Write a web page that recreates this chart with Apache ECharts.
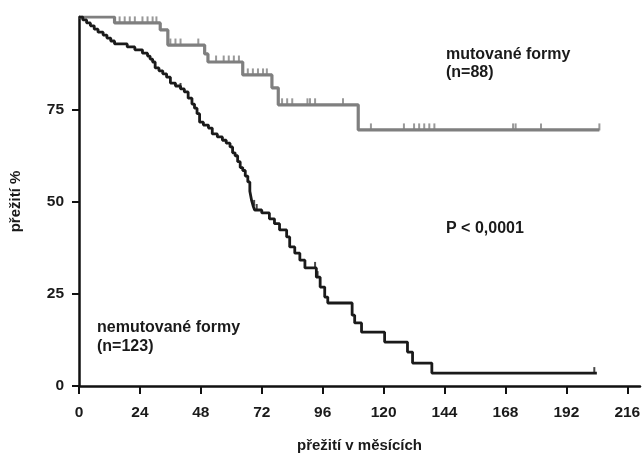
<!DOCTYPE html>
<html><head><meta charset="utf-8">
<script src="https://cdn.jsdelivr.net/npm/echarts@6/dist/echarts.min.js"></script>
<style>html,body{margin:0;padding:0;background:#fff}#c{width:642px;height:454px}</style>
</head><body><div id="c"></div>
<script>
// Tick values
const xTicks = [0, 24, 48, 72, 96, 120, 144, 168, 192, 216];
const yTicks = [0, 25, 50, 75];

// mutované formy (n=88): step times (months) and survival (%) after each step
const mutTimes = [0, 14, 32, 35, 49.5, 50.8, 64.5, 76, 78.5, 110, 205];
const mutSurv  = [100, 98.4, 96.5, 92.4, 90.0, 87.8, 84.3, 80.8, 76.2, 69.4, 69.4];
const mutCensor = [16, 18, 20, 22, 25, 27, 29, 30.5, 36, 38, 40, 47, 54, 57, 59, 61, 63,
  66.5, 68.5, 70.5, 72.5, 74, 80, 82, 84, 90, 91, 93, 104,
  115, 128, 132, 134, 136, 138, 140, 171, 172, 182, 205];

// nemutované formy (n=123)
const nonTimes = [0, 1.5, 3, 4.5, 6, 7.5, 9.5, 11, 12.5, 14, 19, 22, 25, 27, 28, 29, 30, 31.5, 33, 34.5,
  36, 38, 40, 41.5, 43, 44.5, 45.5, 46.5, 47.5, 49, 51, 52.5, 54.5, 56.5, 58, 59.5, 60.5, 61.5, 62.5, 63.5,
  64.5, 65.5, 66.5, 67.3, 68, 68.6, 69.2, 72, 75, 77, 79, 81.8, 83, 85, 87, 89, 93.5, 95, 96.8, 98,
  107.6, 108.6, 111.3, 120.4, 129.4, 131.4, 139, 204];
const nonSurv = [100, 99.2, 98.4, 97.6, 96.7, 95.9, 95.1, 94.3, 93.5, 92.7, 91.9, 91.1, 90.2, 89.4, 88.6, 87.8, 86.2, 85.4, 84.6, 83.7,
  82.1, 81.3, 80.5, 79.7, 78.0, 76.4, 75.3, 73.8, 71.5, 70.7, 69.9, 68.3, 67.5, 66.6, 65.8, 64.8, 63.2, 62.4, 60.8, 59.2,
  58.4, 56.9, 55.3, 52.8, 50.3, 48.8, 47.7, 46.9, 45.3, 44.0, 42.3, 40.4, 37.7, 36.0, 34.1, 32.0, 29.5, 26.8, 24.1, 22.5,
  19.2, 17.1, 14.6, 11.9, 9.2, 6.2, 3.5, 3.5];
const nonCensor = [40, 69, 70, 93, 94, 203];

function pairs(t, s) { return t.map((v, i) => [v, s[i]]); }
function survAt(t, s, x) { let v = s[0]; for (let i = 0; i < t.length; i++) { if (t[i] <= x) v = s[i]; } return v; }
function censorPts(c, t, s) { return c.map(x => [x, survAt(t, s, x)]); }

const FONT = 'Liberation Sans';
const TXT = '#1a1a1a';
const GREY = '#7f7f7f';
const BLACK = '#1a1a1a';

const chart = echarts.init(document.getElementById('c'), null, { renderer: 'canvas' });
chart.setOption({
  animation: false,
  backgroundColor: '#fff',
  grid: { left: 79, right: 2, top: 17, bottom: 68, containLabel: false, outerBoundsMode: 'none' },
  xAxis: {
    type: 'value', min: 0, max: 221,
    name: 'přežití v měsících', nameLocation: 'middle', nameGap: 52,
    nameTextStyle: { fontFamily: FONT, fontWeight: 'bold', fontSize: 15, color: TXT },
    axisLine: { lineStyle: { color: '#111', width: 2.5 } },
    axisTick: { show: true, length: 8, lineStyle: { color: '#111', width: 2 }, customValues: xTicks },
    axisLabel: { customValues: xTicks, margin: 19, fontFamily: FONT, fontWeight: 'bold', fontSize: 15.5, color: TXT },
    splitLine: { show: false }
  },
  yAxis: {
    type: 'value', min: 0, max: 100,
    name: 'přežití %', nameLocation: 'middle', nameGap: 56, nameRotate: 90,
    nameTextStyle: { fontFamily: FONT, fontWeight: 'bold', fontSize: 15, color: TXT },
    axisLine: { show: true, lineStyle: { color: '#111', width: 2.5 } },
    axisTick: { show: true, length: 7, lineStyle: { color: '#111', width: 2 }, customValues: yTicks },
    axisLabel: { customValues: yTicks, margin: 15, fontFamily: FONT, fontWeight: 'bold', fontSize: 15.5, color: TXT },
    splitLine: { show: false }
  },
  series: [
    { name: 'mutované formy', type: 'line', step: 'end', data: pairs(mutTimes, mutSurv), showSymbol: false,
      lineStyle: { color: GREY, width: 3.2 }, z: 2 },
    { name: 'mutované censor', type: 'scatter', data: censorPts(mutCensor, mutTimes, mutSurv),
      symbol: 'rect', symbolSize: [2, 7], symbolOffset: [0, -3], itemStyle: { color: GREY }, z: 2 },
    { name: 'nemutované formy', type: 'line', step: 'end', data: pairs(nonTimes, nonSurv), showSymbol: false,
      lineStyle: { color: BLACK, width: 2.8 }, z: 3 },
    { name: 'nemutované censor', type: 'scatter', data: censorPts(nonCensor, nonTimes, nonSurv),
      symbol: 'rect', symbolSize: [2, 6], symbolOffset: [0, -3], itemStyle: { color: BLACK }, z: 3 }
  ],
  graphic: [
    { type: 'text', left: 446, top: 46, style: { text: 'mutované formy\n(n=88)', fontFamily: FONT, fontWeight: 'bold', fontSize: 16, lineHeight: 18, fill: TXT } },
    { type: 'text', left: 446, top: 221, style: { text: 'P < 0,0001', fontFamily: FONT, fontWeight: 'bold', fontSize: 16, fill: TXT } },
    { type: 'text', left: 97, top: 318, style: { text: 'nemutované formy\n(n=123)', fontFamily: FONT, fontWeight: 'bold', fontSize: 16, lineHeight: 19, fill: TXT } }
  ]
});
</script></body></html>
